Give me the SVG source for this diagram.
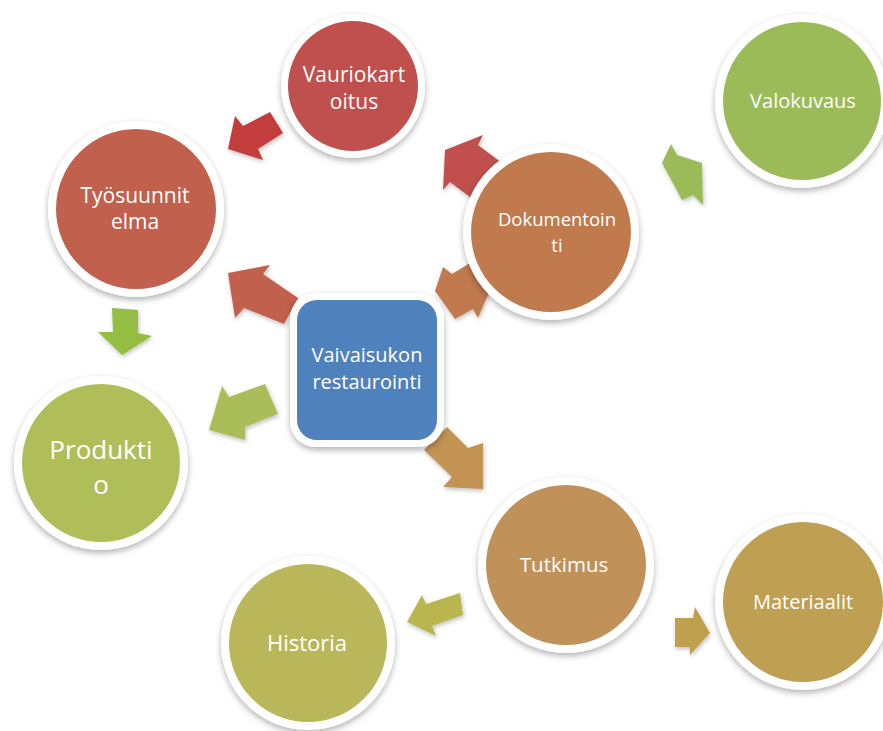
<svg xmlns="http://www.w3.org/2000/svg" width="883" height="731" viewBox="0 0 883 731">
<defs>
<filter id="sh" x="-20%" y="-20%" width="140%" height="150%">
<feDropShadow dx="0" dy="3" stdDeviation="3" flood-color="#000" flood-opacity="0.3"/>
</filter>
<filter id="ash" x="-30%" y="-30%" width="160%" height="160%">
<feDropShadow dx="1" dy="2" stdDeviation="2" flood-color="#000" flood-opacity="0.25"/>
</filter>
</defs>
<style>
.ring{fill:#fff;filter:url(#sh)}
.arrow{filter:url(#ash)}
.lbl{font-family:"Open Sans","Liberation Sans",Arial,sans-serif;fill:#fff;text-anchor:middle}
</style>
<rect width="883" height="731" fill="#fff"/>
<g id="connectors">
<polygon class="arrow" fill="#C43C3E" points="228,149 235,116 243,126 270,112 283,133 258,149 263,160"/>
<polygon class="arrow" fill="#C0504D" points="445,150 483,135 478,145 502,163 474,200 450,182 443,190"/>
<polygon class="arrow" fill="#9BBB59" points="671,144 677,155 702,163 703,205 693,195 682,200 662,163"/>
<polygon class="arrow" fill="#C0614D" points="228,273 270,265 263,274 298,298 284,324 244,308 235,318"/>
<polygon class="arrow" fill="#C07A4D" points="443,267 452,274 470,263 492,285 478,318 473,309 455,319 435,291"/>
<polygon class="arrow" fill="#94BE43" points="112,308 138,310 138,333 152,336 122,355 98,332 113,332"/>
<polygon class="arrow" fill="#ABBD58" points="209,430 222,386 229,397 265,384 278,414 245,427 245,440"/>
<polygon class="arrow" fill="#C39352" points="424,450 447,427 468,448 483,443 483,489 443,487 452,477"/>
<polygon class="arrow" fill="#B9B650" points="407,622 422,595 426,604 460,593 463,615 432,626 436,636"/>
<polygon class="arrow" fill="#BFA04F" points="675,618 693,618 695,607 710,633 690,655 690,647 675,647"/>
</g>
<g id="center">
<rect class="ring" x="290" y="293" width="154" height="154" rx="26"/>
<rect x="297" y="300" width="140" height="140" rx="20" fill="#4F81BD"/>
<text class="lbl" font-size="20"><tspan x="367" y="362">Vaivaisukon</tspan><tspan x="367" y="389">restaurointi</tspan></text>
</g>
<g id="vauriokartoitus">
<circle class="ring" cx="353" cy="86" r="72"/>
<circle cx="353" cy="86" r="65" fill="#C0504D"/>
<text class="lbl" font-size="21"><tspan x="354" y="82">Vauriokart</tspan><tspan x="354" y="109">oitus</tspan></text>
</g>
<g id="tyosuunnitelma">
<circle class="ring" cx="136" cy="209" r="88"/>
<circle cx="136" cy="209" r="80" fill="#C1604C"/>
<text class="lbl" font-size="21"><tspan x="135" y="203">Työsuunnit</tspan><tspan x="135" y="229">elma</tspan></text>
</g>
<g id="valokuvaus">
<circle class="ring" cx="802" cy="101" r="87"/>
<circle cx="802" cy="101" r="79" fill="#9BBB59"/>
<text class="lbl" font-size="20" x="803" y="108">Valokuvaus</text>
</g>
<g id="dokumentointi">
<circle class="ring" cx="551" cy="232" r="88"/>
<circle cx="551" cy="232" r="80" fill="#C07A4D"/>
<text class="lbl" font-size="18.5"><tspan x="557" y="226">Dokumentoin</tspan><tspan x="557" y="252">ti</tspan></text>
</g>
<g id="produktio">
<circle class="ring" cx="101" cy="463" r="87"/>
<circle cx="101" cy="463" r="79" fill="#B0BE5A"/>
<text class="lbl" font-size="26"><tspan x="101" y="459">Produkti</tspan><tspan x="101" y="494">o</tspan></text>
</g>
<g id="tutkimus">
<circle class="ring" cx="566" cy="565" r="88"/>
<circle cx="566" cy="565" r="80" fill="#C0925A"/>
<text class="lbl" font-size="20.5" x="564" y="572">Tutkimus</text>
</g>
<g id="historia">
<circle class="ring" cx="308" cy="643" r="87"/>
<circle cx="308" cy="643" r="79" fill="#BAB75A"/>
<text class="lbl" font-size="22" x="307" y="651">Historia</text>
</g>
<g id="materiaalit">
<circle class="ring" cx="803" cy="602" r="88"/>
<circle cx="803" cy="602" r="80" fill="#BFA052"/>
<text class="lbl" font-size="20" x="803" y="609">Materiaalit</text>
</g>
</svg>
